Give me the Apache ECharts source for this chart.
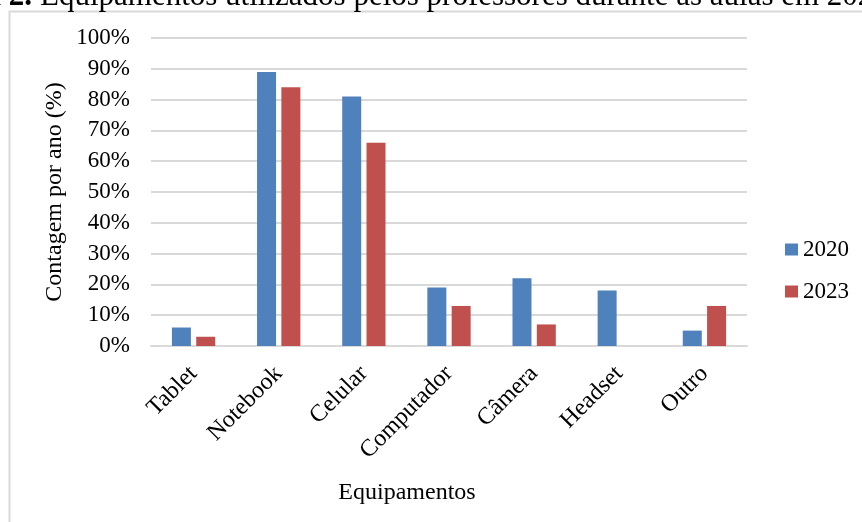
<!DOCTYPE html>
<html>
<head>
<meta charset="utf-8">
<style>
  html, body { margin: 0; padding: 0; background: #fff; }
  #chart { width: 862px; height: 522px; }
</style>
<script src="https://cdn.jsdelivr.net/npm/echarts@6/dist/echarts.min.js"></script>
</head>
<body>
<div id="chart"></div>
<script>
// Equipment categories and share of teachers per year (%)
const categories = ['Tablet', 'Notebook', 'Celular', 'Computador', 'Câmera', 'Headset', 'Outro'];
const values2020 = [6, 89, 81, 19, 22, 18, 5];
const values2023 = [3, 84, 66, 13, 7, 0, 13];
const seriesNames = ['2020', '2023'];
const yTicks = { min: 0, max: 100, interval: 10 };

const serif = '"Liberation Serif", "Times New Roman", serif';
const chart = echarts.init(document.getElementById('chart'));

chart.setOption({
  animation: false,
  backgroundColor: '#fff',
  textStyle: { fontFamily: serif, color: '#000' },
  grid: { left: 151, right: 115, top: 38, bottom: 176 },
  legend: {
    orient: 'vertical',
    left: 785,
    top: 238,
    padding: 0,
    itemWidth: 13,
    itemHeight: 12,
    itemGap: 19,
    icon: 'rect',
    textStyle: { fontFamily: serif, fontSize: 23, color: '#000' },
    data: seriesNames
  },
  xAxis: {
    type: 'category',
    data: categories,
    axisLine: { lineStyle: { color: '#D9D9D9', width: 2 } },
    axisTick: { show: false },
    axisLabel: {
      rotate: 45,
      interval: 0,
      margin: 24,
      padding: [20, 0, 0, 0],
      fontFamily: serif,
      fontSize: 24,
      color: '#000'
    }
  },
  yAxis: {
    type: 'value',
    min: yTicks.min,
    max: yTicks.max,
    interval: yTicks.interval,
    axisLine: { show: false },
    axisTick: { show: false },
    splitLine: { lineStyle: { color: '#D9D9D9', width: 2 } },
    axisLabel: {
      formatter: '{value}%',
      margin: 21,
      fontFamily: serif,
      fontSize: 23,
      color: '#000'
    }
  },
  series: [
    {
      name: seriesNames[0],
      type: 'bar',
      data: values2020,
      barWidth: 19,
      barGap: '28%',
      itemStyle: { color: '#4F81BD' }
    },
    {
      name: seriesNames[1],
      type: 'bar',
      data: values2023,
      barWidth: 19,
      itemStyle: { color: '#C0504D' }
    }
  ],
  graphic: [
    {
      type: 'rect',
      silent: true,
      shape: { x: 9.5, y: 11.5, width: 900, height: 560 },
      style: { fill: 'none', stroke: '#D9D9D9', lineWidth: 2 }
    },
    {
      type: 'text',
      x: 32,
      y: -3,
      style: {
        text: 'Figura 2.',
        font: 'bold 31px ' + serif,
        fill: '#000',
        align: 'right',
        verticalAlign: 'middle'
      }
    },
    {
      type: 'text',
      x: 40,
      y: -3,
      style: {
        text: 'Equipamentos utilizados pelos professores durante as aulas em 2020 e 2023',
        font: '31px ' + serif,
        fill: '#000',
        align: 'left',
        verticalAlign: 'middle'
      }
    },
    {
      type: 'text',
      x: 55,
      y: 192,
      rotation: Math.PI / 2,
      style: {
        text: 'Contagem por ano (%)',
        font: '24px ' + serif,
        fill: '#000',
        align: 'center',
        verticalAlign: 'middle'
      }
    },
    {
      type: 'text',
      x: 407,
      y: 493,
      style: {
        text: 'Equipamentos',
        font: '24px ' + serif,
        fill: '#000',
        align: 'center',
        verticalAlign: 'middle'
      }
    }
  ]
});
</script>
</body>
</html>
